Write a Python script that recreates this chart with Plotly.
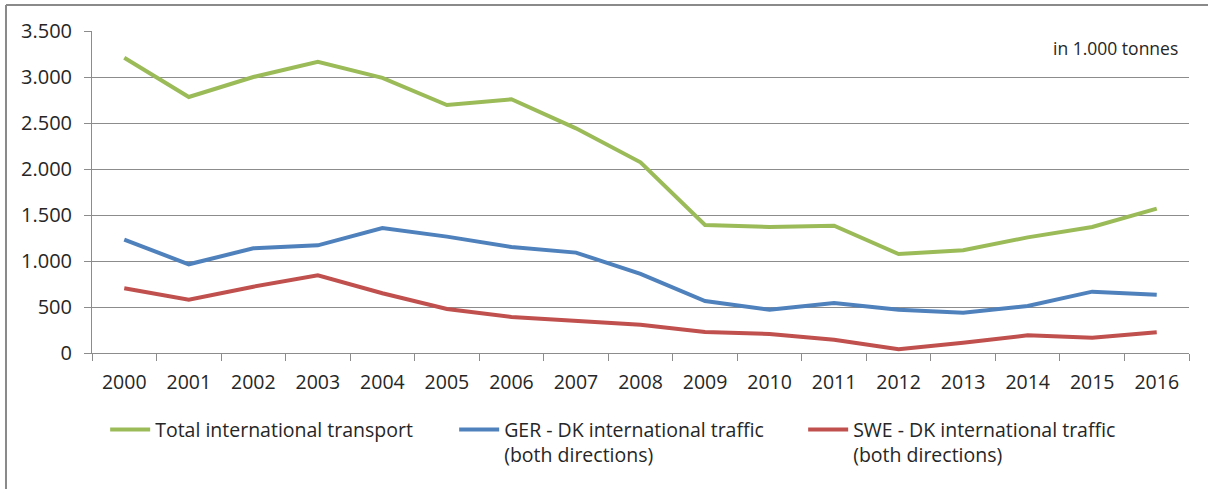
import plotly.graph_objects as go

years = [str(y) for y in range(2000, 2017)]

total_intl = [3210, 2783, 3000, 3166, 2990, 2696, 2758, 2442, 2073, 1391,
              1370, 1384, 1076, 1116, 1257, 1370, 1569]
ger_dk = [1232, 964, 1138, 1170, 1359, 1265, 1152, 1091, 859, 565,
          471, 543, 471, 438, 511, 667, 634]
swe_dk = [703, 580, 721, 844, 649, 478, 391, 351, 308, 228,
          207, 145, 40, 112, 192, 166, 225]

series_names = [
    "Total international transport",
    "GER - DK international traffic<br>(both directions)",
    "SWE - DK international traffic<br>(both directions)",
]
series_colors = ["#9BBB59", "#4F81BD", "#C0504D"]

FONT = "Open Sans"
TEXT = "#262626"
GRID = "#8c8c8c"

fig = go.Figure()
for name, vals, col in zip(series_names, [total_intl, ger_dk, swe_dk], series_colors):
    fig.add_trace(go.Scatter(
        x=years, y=vals, name=name, mode="lines",
        line=dict(color=col, width=4),
    ))

fig.update_layout(
    width=1208, height=489,
    margin=dict(l=92, r=19, t=31, b=136, autoexpand=False),
    paper_bgcolor="white", plot_bgcolor="white",
    separators=",.",
    font=dict(family=FONT, size=19, color=TEXT),
    showlegend=True,
    legend=dict(
        orientation="h", x=0.012, xanchor="left", y=-0.178, yanchor="top",
        entrywidth=294, entrywidthmode="pixels", valign="top",
        font=dict(family=FONT, size=19.5, color=TEXT),
        itemwidth=40, tracegroupgap=0,
    ),
    xaxis=dict(
        type="category", range=[-0.5, 16.5],
        showgrid=False, showline=True, linecolor=GRID, linewidth=1,
        ticks="outside", tickson="boundaries", ticklen=7, tickcolor=GRID,
        ticklabelstandoff=12,
        tickfont=dict(family=FONT, size=19.5, color=TEXT),
    ),
    yaxis=dict(
        range=[0, 3500], dtick=500, tickformat=",d",
        showgrid=True, gridcolor=GRID, gridwidth=1,
        showline=True, linecolor=GRID, linewidth=1, zeroline=False,
        ticks="outside", ticklen=7, tickcolor=GRID,
        ticklabelstandoff=8,
        tickfont=dict(family=FONT, size=20, color=TEXT),
    ),
    annotations=[dict(
        text="in 1.000 tonnes", xref="paper", yref="paper",
        x=0.992, y=0.947, xanchor="right", yanchor="middle",
        showarrow=False, font=dict(family=FONT, size=17.5, color=TEXT),
    )],
    shapes=[
        dict(type="line", xref="paper", yref="paper", x0=-0.0784, x1=-0.0784,
             y0=1.0807, y1=-0.43, line=dict(color="#8a8a8a", width=2)),
        dict(type="line", xref="paper", yref="paper", x0=-0.0784, x1=1.02,
             y0=1.0807, y1=1.0807, line=dict(color="#8a8a8a", width=2)),
    ],
)

fig.write_html("out.html")
